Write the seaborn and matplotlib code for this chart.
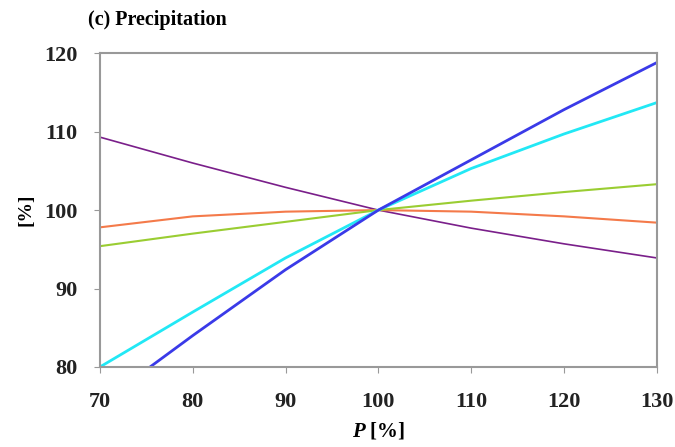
import matplotlib.pyplot as plt
import pandas as pd
import seaborn as sns

# precipitation change (% of baseline)
p_change = [70, 80, 90, 100, 110, 120, 130]

# relative response of each series [%]
series_a = [109.3, 106.0, 102.9, 100.0, 97.7, 95.7, 93.9]   # purple
series_b = [97.8, 99.2, 99.8, 100.0, 99.8, 99.2, 98.4]      # orange
series_c = [95.4, 97.0, 98.5, 100.0, 101.2, 102.3, 103.3]   # green
series_d = [80.0, 87.0, 93.9, 100.0, 105.3, 109.7, 113.7]   # cyan
series_e = [75.3, 84.0, 92.4, 100.0, 106.4, 112.8, 118.8]   # blue

names = ["a", "b", "c", "d", "e"]
colors = ["#7a1f8a", "#f47a4a", "#9acd32", "#22e8f5", "#3a3ae8"]
widths = [1.2, 1.5, 1.5, 2.0, 2.0]

data = pd.DataFrame({"P": p_change, "a": series_a, "b": series_b,
                     "c": series_c, "d": series_d, "e": series_e})
data_long = data.melt(id_vars="P", var_name="series", value_name="value")

plt.rcParams["font.family"] = ["Liberation Serif", "DejaVu Serif"]
plt.rcParams["mathtext.fontset"] = "custom"
plt.rcParams["mathtext.rm"] = "Liberation Serif"
plt.rcParams["mathtext.it"] = "Liberation Serif:italic"
plt.rcParams["mathtext.bf"] = "Liberation Serif:bold"
plt.rcParams["mathtext.bfit"] = "Liberation Serif:italic:bold"

fig = plt.figure(figsize=(6.75, 4.47), dpi=100)
ax = fig.add_axes([0.148, 0.179, 0.825, 0.702])

for name, col, lw in zip(names, colors, widths):
    sns.lineplot(data=data_long[data_long["series"] == name], x="P", y="value",
                 color=col, linewidth=lw, ax=ax, legend=False)

ax.set_xlim(70, 130)
ax.set_ylim(80, 120)
ax.set_xticks(range(70, 131, 10))
ax.set_yticks(range(80, 121, 10))
ax.tick_params(labelsize=16, color="#999999", length=4, direction="out")
ax.tick_params(axis="x", pad=14)
ax.tick_params(axis="y", pad=12)
for lab in ax.get_xticklabels() + ax.get_yticklabels():
    lab.set_fontweight("bold")
    lab.set_color("#222222")
for sp in ax.spines.values():
    sp.set_color("#999999")
    sp.set_linewidth(1.5)

ax.set_xlabel(r"$\boldsymbol{P}$ [%]", fontsize=15, fontweight="bold", labelpad=6)
ax.set_ylabel("[%]", fontsize=14, fontweight="bold", labelpad=7)
fig.text(0.13, 0.955, "(c) Precipitation", fontsize=14.5, fontweight="bold",
         ha="left", va="center")

fig.savefig("out.png", dpi=100)
